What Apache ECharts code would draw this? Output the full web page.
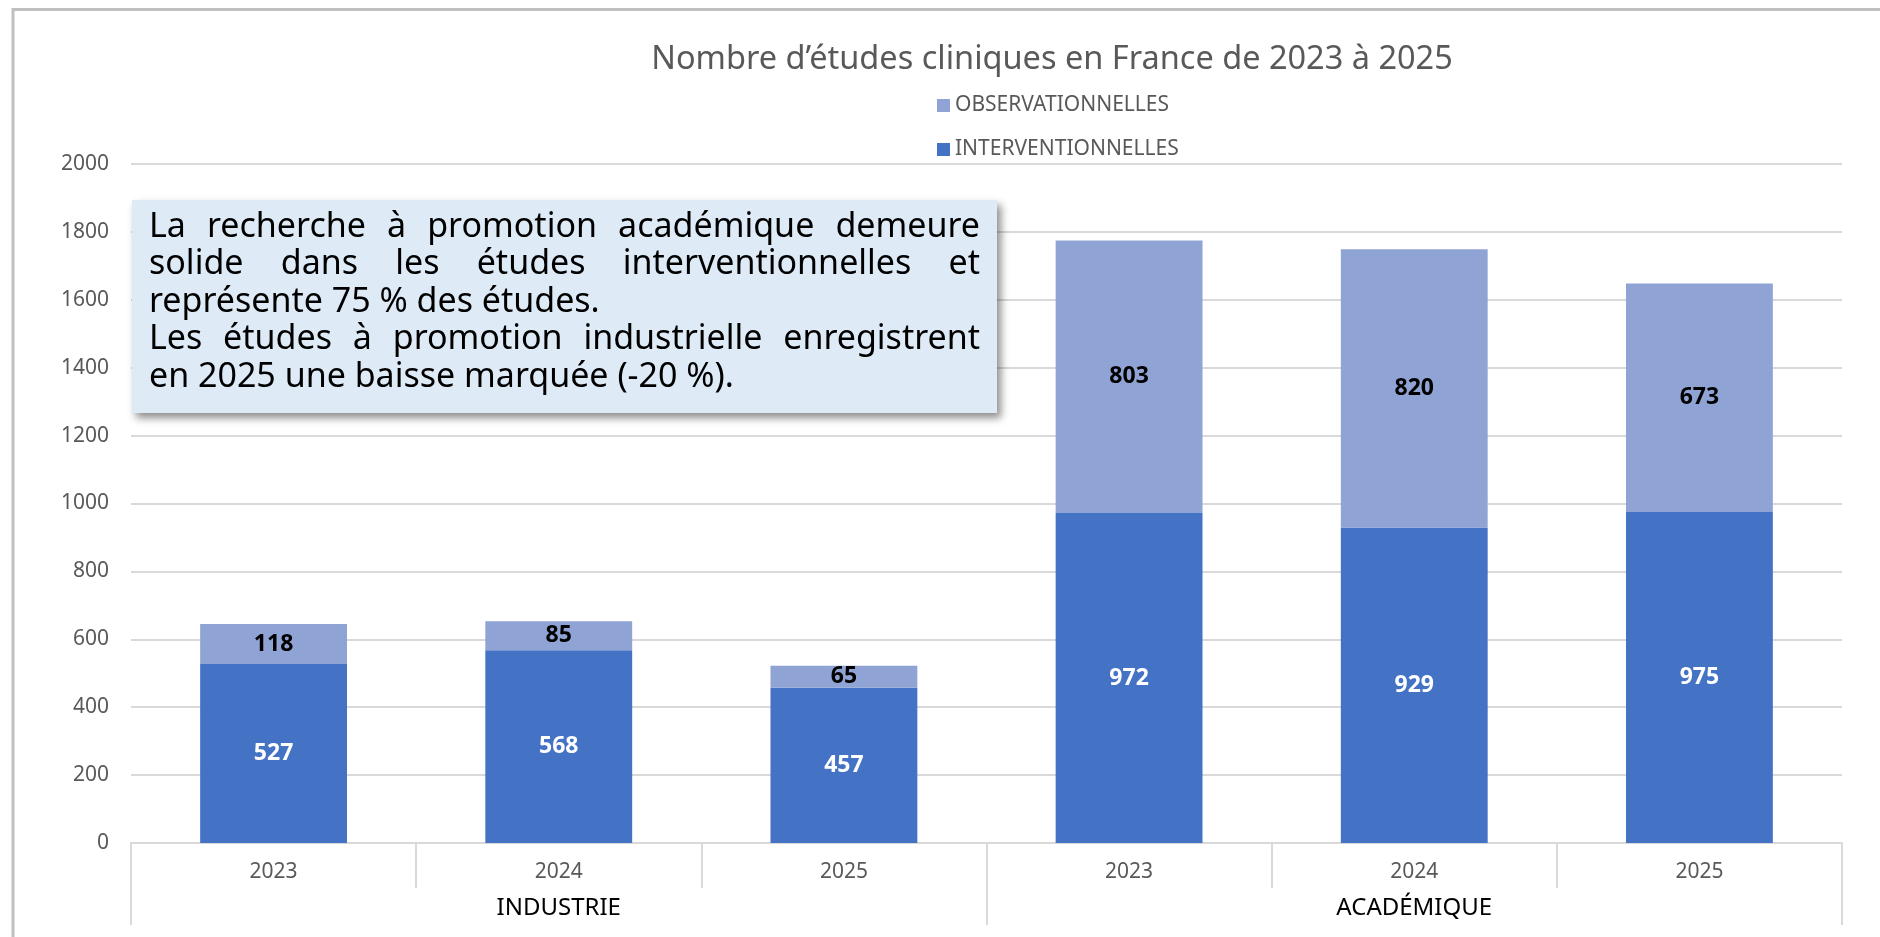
<!DOCTYPE html>
<html>
<head>
    <meta charset="utf-8">
    <title>Nombre d'études cliniques</title>
    <script src="https://cdn.jsdelivr.net/npm/echarts@6/dist/echarts.min.js"></script>
    <style>
        html, body { margin: 0; padding: 0; background: #fff; }
        #main { width: 1880px; height: 937px; }
    </style>
</head>
<body>
    <div id="main"></div>
    <script type="text/javascript">
        // données
        var years = ['2023', '2024', '2025', '2023', '2024', '2025'];
        var groups = ['INDUSTRIE', 'ACADÉMIQUE'];
        var interventionnelles = [527, 568, 457, 972, 929, 975];
        var observationnelles = [118, 85, 65, 803, 820, 673];
        var yTicks = [0, 200, 400, 600, 800, 1000, 1200, 1400, 1600, 1800, 2000];

        var titleText = 'Nombre d’études cliniques en France de 2023 à 2025';
        var noteLines = [
            ['La recherche à promotion académique demeure', true],
            ['solide dans les études interventionnelles et', true],
            ['représente 75 % des études.', false],
            ['Les études à promotion industrielle enregistrent', true],
            ['en 2025 une baisse marquée (-20 %).', false]
        ];

        var FONT = '"Noto Sans", "Open Sans", sans-serif';
        var GREY = '#595959';
        var LINE = '#D9D9D9';

        // encadré : texte justifié mot par mot
        var noteFont = '34px ' + FONT;
        var noteLeft = 149, noteRight = 980;
        var noteY = [227, 264.5, 302, 339.5, 377];
        var ctx = document.createElement('canvas').getContext('2d');
        ctx.font = noteFont;
        var noteTexts = [];
        noteLines.forEach(function (l, i) {
            var words = l[0].split(' ');
            var widths = words.map(function (w) { return ctx.measureText(w).width; });
            var sum = widths.reduce(function (a, b) { return a + b; }, 0);
            var gap = l[1] ? (noteRight - noteLeft - sum) / (words.length - 1) : ctx.measureText(' ').width;
            var x = noteLeft;
            words.forEach(function (w, k) {
                noteTexts.push({
                    type: 'text', x: x, y: noteY[i], z: 101,
                    style: {
                        text: w, font: noteFont, fill: '#000',
                        align: 'left', verticalAlign: 'middle',
                        textAlign: 'left', textVerticalAlign: 'middle'
                    }
                });
                x += widths[k] + gap;
            });
        });

        var myChart = echarts.init(document.getElementById('main'));

        var option = {
            animation: false,
            textStyle: { fontFamily: FONT },
            legend: {
                orient: 'vertical',
                left: 932,
                top: 90,
                itemWidth: 13,
                itemHeight: 13,
                itemGap: 23,
                icon: 'rect',
                data: ['OBSERVATIONNELLES', 'INTERVENTIONNELLES'],
                textStyle: { color: GREY, fontSize: 21, fontFamily: FONT }
            },
            grid: { left: 131, right: 38, top: 164, bottom: 94 },
            xAxis: [
                {
                    type: 'category',
                    data: years,
                    position: 'bottom',
                    axisLine: { show: true, lineStyle: { color: LINE, width: 2 } },
                    axisTick: { show: true, interval: 0, length: 45, lineStyle: { color: LINE, width: 2 } },
                    axisLabel: { color: GREY, fontSize: 21, margin: 19, interval: 0 }
                },
                {
                    type: 'category',
                    data: groups,
                    position: 'bottom',
                    axisLine: { show: false },
                    axisTick: { show: true, interval: 0, length: 82, lineStyle: { color: LINE, width: 2 } },
                    axisLabel: { color: '#000', fontSize: 24, margin: 53, interval: 0 }
                }
            ],
            yAxis: {
                type: 'value',
                min: yTicks[0],
                max: yTicks[yTicks.length - 1],
                interval: 200,
                axisLine: { show: false },
                axisTick: { show: false },
                axisLabel: {
                    color: GREY, fontSize: 21, margin: 22,
                    formatter: function (v) { return String(v); }
                },
                splitLine: { lineStyle: { color: LINE, width: 2 } }
            },
            series: [
                {
                    name: 'INTERVENTIONNELLES',
                    type: 'bar',
                    stack: 'total',
                    xAxisIndex: 0,
                    barWidth: '51.5%',
                    data: interventionnelles,
                    itemStyle: { color: '#4472C4' },
                    label: {
                        show: true, position: 'inside', color: '#fff',
                        fontSize: 23, fontWeight: 'bold', fontFamily: FONT
                    }
                },
                {
                    name: 'OBSERVATIONNELLES',
                    type: 'bar',
                    stack: 'total',
                    xAxisIndex: 0,
                    barWidth: '51.5%',
                    data: observationnelles,
                    itemStyle: { color: '#8FA4D5' },
                    label: {
                        show: true, position: 'inside', color: '#000',
                        fontSize: 23, fontWeight: 'bold', fontFamily: FONT
                    }
                }
            ],
            graphic: [
                {
                    type: 'rect', z: -10, silent: true,
                    shape: { x: 13, y: 9.5, width: 2000, height: 1000 },
                    style: { fill: 'none', stroke: '#C0C0C0', lineWidth: 3 }
                },
                {
                    type: 'text', x: 1052, y: 60,
                    style: {
                        text: titleText, font: '32.5px ' + FONT, fill: GREY,
                        align: 'center', verticalAlign: 'middle',
                        textAlign: 'center', textVerticalAlign: 'middle'
                    }
                },
                {
                    type: 'rect', z: 100,
                    shape: { x: 132, y: 200, width: 865, height: 213 },
                    style: {
                        fill: '#DEEBF7',
                        shadowBlur: 8, shadowOffsetX: 4, shadowOffsetY: 5,
                        shadowColor: 'rgba(0,0,0,0.45)'
                    }
                }
            ].concat(noteTexts)
        };

        myChart.setOption(option);
    </script>
</body>
</html>
